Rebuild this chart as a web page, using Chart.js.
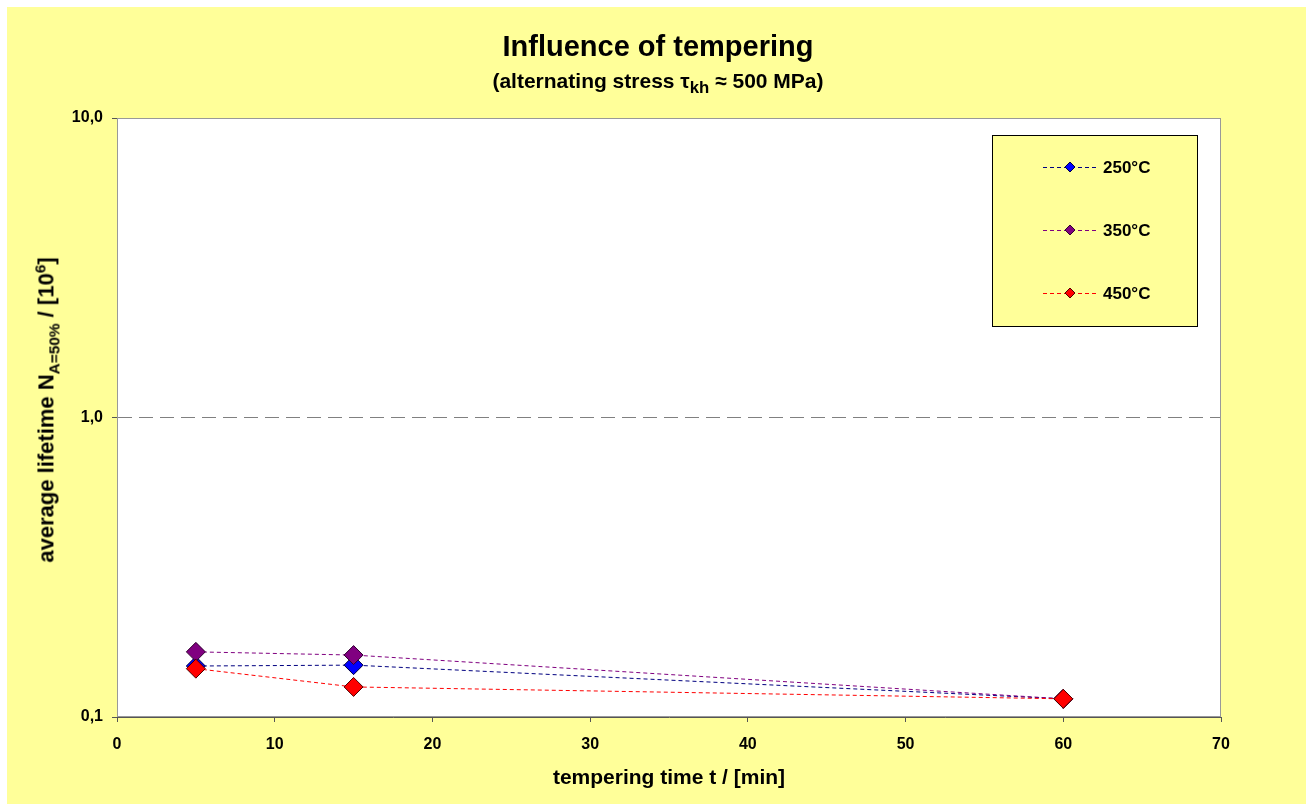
<!DOCTYPE html>
<html>
<head>
<meta charset="utf-8">
<script src="https://cdn.jsdelivr.net/npm/chart.js@4/dist/chart.umd.min.js"></script>
<style>
  body { margin: 0; background: #fff; }
  #wrap { position: relative; width: 1306px; height: 804px; }
  #bg { position: absolute; left: 7px; top: 7px; right: 0; bottom: 0; background: #FFFF99; }
  #chart { position: absolute; left: 0; top: 0; }
  .txt { position: absolute; font-family: "Liberation Sans", Arial, sans-serif; font-weight: bold; color: #000; white-space: nowrap; line-height: 1; }
  #title { left: 658px; top: 46px; transform: translate(-50%, -50%); font-size: 29px; }
  #subtitle { left: 658px; top: 83px; transform: translate(-50%, -50%); font-size: 21px; }
  #subtitle sub { font-size: 0.8em; }
  #ytitle { left: 47px; top: 410px; transform: translate(-50%, -50%) rotate(-90deg); font-size: 22px; }
  #xtitle { left: 669px; top: 776px; transform: translate(-50%, -50%); font-size: 21px; }
  sub, sup { font-size: 0.7em; }
</style>
</head>
<body>
<div id="wrap">
  <div id="bg"></div>
  <canvas id="chart" width="1306" height="804"></canvas>
  <div class="txt" id="title">Influence of tempering</div>
  <div class="txt" id="subtitle">(alternating stress &tau;<sub>kh</sub> &asymp; 500 MPa)</div>
  <div class="txt" id="ytitle">average lifetime N<sub>A=50%</sub> / [10<sup>6</sup>]</div>
  <div class="txt" id="xtitle">tempering time t / [min]</div>
</div>
<script>
let temperTimes = [5, 15, 60];
let labels = ['250°C', '350°C', '450°C'];
let life250 = [0.148, 0.149, 0.115];
let life350 = [0.165, 0.161, 0.115];
let life450 = [0.145, 0.126, 0.115];
let yTicks = [0.1, 1, 10];

let lineColors = ['#000080', '#800080', '#FF0000'];
let markColors = ['#0000FF', '#800080', '#FF0000'];
let markBorders = ['#000040', '#300030', '#500000'];

function points(vals){
    return vals.map((v, i) => ({ x: temperTimes[i], y: v }));
}

function dataset(i, vals){
    return {
        label: labels[i],
        data: points(vals),
        borderColor: lineColors[i],
        borderWidth: 1,
        borderDash: [4, 3],
        backgroundColor: markColors[i],
        pointBackgroundColor: markColors[i],
        pointBorderColor: markBorders[i],
        pointBorderWidth: 1,
        pointStyle: 'rectRot',
        pointRadius: 9.5,
        pointHoverRadius: 9.5,
        order: 3 - i,
        tension: 0
    };
}

// white plot area, frame + boxed legend like the old excel chart
const framePlugin = {
    id: 'frame',
    beforeDraw(chart){
        const a = chart.chartArea, ctx = chart.ctx;
        ctx.save();
        ctx.fillStyle = '#fff';
        ctx.fillRect(a.left, a.top, a.right - a.left, a.bottom - a.top);
        ctx.restore();
    },
    beforeDatasetsDraw(chart){
        const a = chart.chartArea, ctx = chart.ctx;
        ctx.save();
        ctx.strokeStyle = '#999';
        ctx.lineWidth = 1;
        ctx.strokeRect(a.left + 0.5, a.top + 0.5, a.right - a.left - 1, a.bottom - a.top - 1);
        ctx.restore();
    },
    afterDraw(chart){
        const ctx = chart.ctx;
        ctx.save();
        ctx.fillStyle = '#FFFF99';
        ctx.fillRect(992, 135, 205, 191);
        ctx.strokeStyle = '#000';
        ctx.lineWidth = 1;
        ctx.strokeRect(992.5, 135.5, 205, 191);
        chart.data.datasets.forEach((ds, i) => {
            const y = 167 + i * 63;
            ctx.setLineDash([4, 3]);
            ctx.strokeStyle = ds.borderColor;
            ctx.beginPath();
            ctx.moveTo(1043, y + 0.5);
            ctx.lineTo(1097, y + 0.5);
            ctx.stroke();
            ctx.setLineDash([]);
            ctx.fillStyle = ds.pointBackgroundColor;
            ctx.strokeStyle = ds.pointBorderColor;
            ctx.beginPath();
            ctx.moveTo(1070, y - 5);
            ctx.lineTo(1075, y);
            ctx.lineTo(1070, y + 5);
            ctx.lineTo(1065, y);
            ctx.closePath();
            ctx.fill();
            ctx.stroke();
            ctx.fillStyle = '#000';
            ctx.font = 'bold 17px "Liberation Sans", Arial, sans-serif';
            ctx.textBaseline = 'middle';
            ctx.fillText(ds.label, 1103, y + 1);
        });
        ctx.restore();
    }
};

let tickFont = { family: '"Liberation Sans", Arial, sans-serif', size: 16, weight: 'bold' };

let config = {
    type: 'line',
    data: {
        datasets: [dataset(0, life250), dataset(1, life350), dataset(2, life450)]
    },
    options: {
        responsive: false,
        animation: false,
        layout: { padding: { left: 57, top: 118, right: 85, bottom: 47 } },
        plugins: {
            legend: { display: false },
            title: { display: false },
            tooltip: { enabled: false }
        },
        scales: {
            x: {
                type: 'linear',
                min: 0,
                max: 70,
                ticks: { stepSize: 10, color: '#000', font: tickFont, padding: 13, maxRotation: 0 },
                grid: { drawOnChartArea: false, tickLength: 5, tickColor: '#555' },
                border: { color: '#555', width: 1 },
                afterFit(s){ s.height = 40; }
            },
            y: {
                type: 'logarithmic',
                min: 0.1,
                max: 10,
                afterBuildTicks(s){ s.ticks = yTicks.map(v => ({ value: v })); },
                ticks: {
                    color: '#000',
                    font: tickFont,
                    padding: 9,
                    callback: v => Number(v).toFixed(1).replace('.', ',')
                },
                grid: {
                    color: c => (c.tick && c.tick.value === 1) ? '#808080' : 'rgba(0,0,0,0)',
                    tickLength: 5,
                    tickColor: '#555'
                },
                border: {
                    color: '#555',
                    width: 1,
                    dash: c => (c.tick && c.tick.value === 1) ? [14, 7] : []
                },
                afterFit(s){ s.width = 60; }
            }
        }
    },
    plugins: [framePlugin]
};

let chart = new Chart(document.getElementById('chart'), config);
</script>
</body>
</html>
